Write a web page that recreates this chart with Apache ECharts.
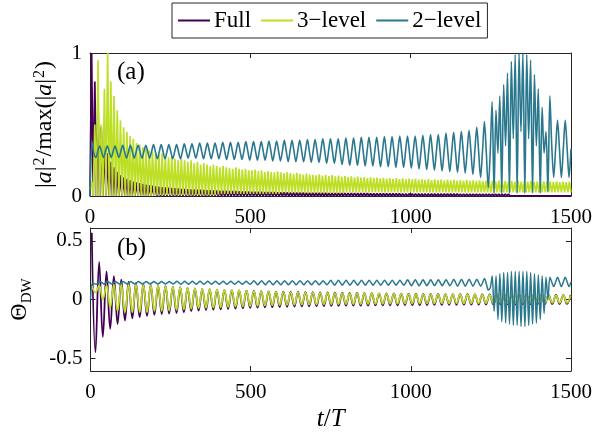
<!DOCTYPE html>
<html><head><meta charset="utf-8">
<script src="https://cdn.jsdelivr.net/npm/echarts@6/dist/echarts.min.js"></script>
<style>html,body{margin:0;padding:0;background:#fff}#c{width:612px;height:438px}</style>
</head><body><div id="c"></div>
<script>
// ---------------- DATA ----------------
const seriesNames = ['Full', '3\u2212level', '2\u2212level'];
const xTicks = [0, 500, 1000, 1500];
const ampTicks = [0, 1];
const thetaTicks = [-0.5, 0, 0.5];

// panel (a): dense curves, lows at t = 0,10,20..., highs at t = 5,15,25...
const fullAmpHi = [1.0,0.8,0.62,0.48,0.38,0.3,0.24,0.2,0.17,0.145,
0.13,0.12,0.11,0.1,0.095,0.09,0.085,0.08,0.076,0.072,
0.068,0.065,0.062,0.06,0.058,0.056,0.054,0.052,0.05,0.049,
0.048,0.046,0.045,0.044,0.043,0.042,0.041,0.04,0.039,0.038,
0.037,0.036,0.036,0.035,0.034,0.034,0.033,0.032,0.032,0.031,
0.03,0.03,0.029,0.029,0.028,0.028,0.027,0.027,0.026,0.026,
0.025,0.025,0.024,0.024,0.023,0.023,0.023,0.022,0.022,0.021,
0.021,0.021,0.021,0.021,0.02,0.02,0.02,0.02,0.02,0.02,
0.02,0.02,0.02,0.019,0.019,0.019,0.019,0.018,0.018,0.018,
0.018,0.018,0.017,0.017,0.017,0.017,0.017,0.016,0.016,0.016,
0.016,0.016,0.016,0.015,0.015,0.015,0.015,0.015,0.015,0.015,
0.015,0.015,0.015,0.015,0.015,0.014,0.014,0.014,0.014,0.014,
0.014,0.014,0.014,0.014,0.014,0.014,0.014,0.014,0.014,0.014,
0.014,0.013,0.013,0.013,0.013,0.013,0.013,0.013,0.013,0.013,
0.013,0.013,0.013,0.013,0.013,0.013,0.013,0.013,0.013,0.013];
const fullAmpLo = [0,0,0,0,0,0,0,0,0,0,0,0,0,0,0,0,0,0,0,0,
0,0,0,0,0,0,0,0,0,0,0,0,0,0,0,0,0,0,0,0,
0,0,0,0,0,0,0,0,0,0,0,0,0,0,0,0,0,0,0,0,
0,0,0,0,0,0,0,0,0,0,0,0,0,0,0,0,0,0,0,0,
0,0,0,0,0,0,0,0,0,0,0,0,0,0,0,0,0,0,0,0,
0,0,0,0,0,0,0,0,0,0,0,0,0,0,0,0,0,0,0,0,
0,0,0,0,0,0,0,0,0,0,0,0,0,0,0,0,0,0,0,0,
0,0,0,0,0,0,0,0,0,0,0];
const threeAmpHi = [0.1,0.5,0.95,0.5,0.75,1.0,0.8,0.7,0.6,0.53,
0.48,0.45,0.42,0.4,0.37,0.36,0.34,0.33,0.32,0.31,
0.3,0.29,0.3,0.28,0.27,0.28,0.26,0.25,0.26,0.25,
0.24,0.25,0.23,0.24,0.22,0.23,0.22,0.21,0.22,0.21,
0.2,0.21,0.2,0.195,0.19,0.2,0.19,0.185,0.19,0.18,
0.18,0.185,0.175,0.18,0.17,0.175,0.17,0.165,0.172,0.165,
0.16,0.168,0.16,0.155,0.162,0.155,0.15,0.157,0.15,0.148,
0.145,0.152,0.142,0.148,0.14,0.146,0.138,0.143,0.135,0.14,
0.133,0.138,0.13,0.136,0.128,0.133,0.126,0.131,0.125,0.129,
0.123,0.127,0.122,0.126,0.12,0.125,0.118,0.123,0.117,0.121,
0.116,0.12,0.115,0.119,0.113,0.118,0.112,0.116,0.111,0.115,
0.11,0.114,0.109,0.113,0.108,0.112,0.107,0.111,0.106,0.11,
0.105,0.109,0.104,0.108,0.103,0.107,0.103,0.107,0.102,0.106,
0.101,0.105,0.101,0.105,0.1,0.104,0.1,0.104,0.099,0.103,
0.099,0.103,0.098,0.102,0.098,0.102,0.097,0.101,0.097,0.101];
const threeAmpLo = [0.05,0,0,0,0,0,0,0,0,0,0,0,0,0,0,0,0,0,0,0,
0,0.005,0.005,0.005,0.005,0.005,0.005,0.005,0.005,0.005,0.005,0.005,0.005,0.005,0.005,0.005,0.005,0.005,0.005,0.005,
0.01,0.015,0.015,0.015,0.015,0.015,0.015,0.015,0.015,0.015,0.015,0.015,0.015,0.015,0.015,0.015,0.015,0.015,0.015,0.015,
0.02,0.02,0.02,0.02,0.02,0.02,0.02,0.02,0.02,0.02,0.02,0.02,0.02,0.02,0.02,0.02,0.02,0.02,0.02,0.02,
0.025,0.025,0.025,0.025,0.025,0.025,0.025,0.025,0.025,0.025,0.025,0.025,0.025,0.025,0.025,0.025,0.025,0.025,0.025,0.025,
0.025,0.025,0.025,0.025,0.025,0.025,0.025,0.025,0.025,0.025,0.025,0.025,0.025,0.025,0.025,0.025,0.025,0.025,0.025,0.025,
0.025,0.025,0.025,0.025,0.025,0.025,0.025,0.025,0.025,0.025,0.025,0.025,0.025,0.025,0.025,0.025,0.025,0.025,0.025,0.025,
0.025,0.025,0.025,0.025,0.025,0.025,0.025,0.025,0.025,0.025,0.025];
// panel (a): 2-level, one value every 6 T from t = 0
const twoAmp = [0,0.38,0.3,0.27,0.31,
.35,.31,.27,.31, .35,.31,.27,.31, .35,.31,.27,.31, .355,.31,.265,.31, .355,.31,.265,.31,
.355,.31,.265,.31, .355,.31,.265,.31, .36,.31,.26,.31, .36,.31,.26,.31, .36,.31,.26,.31,
.36,.31,.26,.31, .365,.315,.265,.315, .365,.315,.265,.315, .37,.315,.26,.315, .37,.315,.26,.315,
.37,.315,.26,.315, .375,.315,.255,.315, .375,.315,.255,.315, .375,.315,.255,.315, .38,.315,.25,.315,
.38,.315,.25,.315, .38,.315,.25,.315, .385,.315,.245,.315, .385,.315,.245,.315, .39,.315,.24,.315,
.39,.315,.24,.315, .39,.315,.24,.315, .395,.315,.235,.315, .395,.315,.235,.315, .4,.315,.23,.315,
.4,.315,.23,.315, .4,.31,.22,.31, .405,.31,.215,.31, .405,.31,.215,.31, .41,.31,.21,.31,
.41,.31,.21,.31, .41,.31,.205,.31, .415,.31,.205,.31, .415,.31,.2,.31, .42,.31,.2,.31,
.42,.31,.195,.31, .42,.305,.19,.305, .425,.305,.185,.305, .43,.305,.18,.305, .43,.305,.175,.305,
.44,.305,.17,.305, .445,.305,.165,.305, .45,.31,.16,.31, .46,.31,.15,.31, .48,.31,.13,.31,
.52,.3,.06,.3,
.66,.02,.6,.3,.7,.02,.78,.35,.86,.02,.94,.4,.99,.02,1.0,.45,1.0,.02,.99,.4,.95,.02,.85,.35,.75,.02,.62,.3,.45,.03,
.7,.35,.13,.33,.53,.33,.13,.33,.53,.33,.13,.33];

// panel (b): Full and 3-level, one extremum every 11.5 T from t = 4
const fullTheta = [.57,-.45,.32,-.32,.24,-.25,.2,-.21,.17,-.18,
.15,-.16,.14,-.15,.13,-.14,.125,-.13,.12,-.125,
.115,-.12,.11,-.115,.105,-.11,.1,-.1,.095,-.095,
.09,-.09,.088,-.088,.085,-.085,.082,-.08,.08,-.078,
.078,-.075,.075,-.072,.073,-.07,.072,-.068,.07,-.066,
.068,-.064,.066,-.062,.065,-.06,.064,-.059,.063,-.058,
.062,-.057,.061,-.056,.06,-.055,.059,-.054,.058,-.053,
.057,-.052,.056,-.052,.055,-.051,.054,-.05,.053,-.05,
.052,-.049,.051,-.049,.05,-.048,.05,-.048,.049,-.047,
.048,-.047,.047,-.046,.047,-.046,.046,-.045,.046,-.045,
.045,-.044,.045,-.044,.044,-.043,.044,-.043,.043,-.042,
.043,-.042,.042,-.041,.042,-.041,.041,-.04,.041,-.04,
.04,-.039,.04,-.039,.039,-.038,.039,-.038,.038,-.037,
.038];
const threeTheta = [.12,.06,.12,0,.12,-.07,.13,-.1,.13,-.11,
.13,-.11,.13,-.11,.125,-.11,.12,-.1,.12,-.1,
.115,-.095,.11,-.09,.105,-.085,.1,-.08,.095,-.075,
.09,-.072,.088,-.07,.085,-.068,.082,-.065,.08,-.062,
.077,-.06,.074,-.057,.072,-.055,.07,-.052,.067,-.05,
.065,-.048,.063,-.047,.062,-.046,.06,-.045,.059,-.044,
.058,-.043,.057,-.042,.056,-.041,.055,-.04,.054,-.04,
.053,-.039,.052,-.039,.051,-.038,.05,-.038,.05,-.037,
.049,-.037,.048,-.036,.048,-.036,.047,-.035,.046,-.035,
.045,-.035,.045,-.034,.044,-.034,.043,-.034,.043,-.033,
.042,-.033,.041,-.033,.041,-.032,.04,-.032,.04,-.032,
.039,-.031,.039,-.031,.038,-.031,.038,-.03,.037,-.03,
.037,-.03,.036,-.03,.036,-.029,.035,-.029,.035,-.029,
.035];
// panel (b): 2-level, one value every 6 T from t = 0
const twoTheta = [0,.14,.135,.13,.14,
.153,.143,.133,.143, .153,.143,.133,.143, .153,.143,.133,.143, .153,.143,.133,.143, .153,.143,.133,.143,
.153,.143,.133,.143, .153,.143,.133,.143, .153,.143,.133,.143, .153,.143,.133,.143, .153,.143,.133,.143,
.156,.143,.13,.143, .156,.143,.13,.143, .156,.143,.13,.143, .156,.143,.13,.143, .156,.143,.13,.143,
.156,.143,.13,.143, .156,.143,.13,.143, .156,.143,.13,.143, .156,.143,.13,.143, .156,.143,.13,.143,
.16,.143,.126,.143, .16,.143,.126,.143, .16,.143,.126,.143, .16,.143,.126,.143, .16,.143,.126,.143,
.16,.143,.126,.143, .16,.143,.126,.143, .16,.143,.126,.143, .16,.143,.126,.143, .16,.143,.126,.143,
.164,.143,.122,.143, .164,.143,.122,.143, .164,.143,.122,.143, .164,.143,.122,.143, .164,.143,.122,.143,
.164,.143,.122,.143, .164,.143,.122,.143, .164,.143,.122,.143, .164,.143,.122,.143, .164,.143,.122,.143,
.169,.143,.117,.143, .169,.143,.117,.143, .169,.143,.117,.143, .169,.143,.117,.143, .169,.143,.117,.143,
.169,.143,.117,.143, .173,.143,.113,.143, .173,.143,.113,.143, .173,.143,.113,.143, .173,.143,.113,.143,
.18,.13,.08,.1,
.2,-.1,.2,-.17,.22,-.19,.23,-.2,.23,-.21,.24,-.22,.24,-.22,.24,-.23,.24,-.23,.24,-.22,.23,-.21,.22,-.2,.21,-.17,.2,-.12,.19,0,
.19,.15,.11,.15,.19,.15,.11,.15,.19,.15,.11,.15];

// sampling of the arrays above (time axis, in units of T)
const denseStep = 5, twoStep = 6, thetaT0 = 4, thetaStep = 11.5;

// ---------------- helpers ----------------
function interleave(lo, hi, step) {
  const out = [];
  for (let k = 0; k < lo.length; k++) {
    out.push([2 * k * step, lo[k]]);
    if (k < hi.length) out.push([(2 * k + 1) * step, hi[k]]);
  }
  return out;
}
function uniform(vals, t0, step) { return vals.map((v, i) => [t0 + i * step, v]); }

const F = 'Liberation Serif';
const C = ['#440154', '#bddf26', '#2a788e'];
const ink = '#262626';
const TICK_FS = 21;

function xAx(grid, pos, labels, name) {
  return {
    type: 'value', gridIndex: grid, position: pos, min: 0, max: 1500, interval: 500,
    axisLine: { show: true, onZero: false, lineStyle: { color: ink, width: 1 } },
    axisTick: { show: true, inside: true, length: 5, lineStyle: { color: ink } },
    axisLabel: { show: labels, color: '#000', fontFamily: F, fontSize: TICK_FS, margin: 11, formatter: v => String(v) },
    splitLine: { show: false },
    name: name || '', nameLocation: 'middle', nameGap: 36,
    nameTextStyle: { color: '#000', fontFamily: F, fontSize: 25, rich: { i: { fontStyle: 'italic', fontFamily: F, fontSize: 25, color: '#000' } } }
  };
}
function yAx(grid, pos, labels, min, max, ticks, name, gap, fs, rich) {
  return {
    type: 'value', gridIndex: grid, position: pos, min: min, max: max,
    axisLine: { show: true, onZero: false, lineStyle: { color: ink, width: 1 } },
    axisTick: { show: true, inside: true, length: 5, lineStyle: { color: ink }, customValues: ticks },
    axisLabel: { show: labels, color: '#000', fontFamily: F, fontSize: TICK_FS, margin: 8, customValues: ticks, formatter: v => String(v) },
    splitLine: { show: false },
    name: name || '', nameLocation: 'middle', nameRotate: 90, nameGap: gap || 0,
    nameTextStyle: { color: '#000', fontFamily: F, fontSize: fs || 20, rich: rich || {} }
  };
}

const chart = echarts.init(document.getElementById('c'), null, { renderer: 'canvas' });
chart.setOption({
  animation: false,
  backgroundColor: '#fff',
  textStyle: { fontFamily: F },
  legend: {
    data: seriesNames, left: 172, top: 3, orient: 'horizontal',
    icon: 'rect', itemWidth: 32, itemHeight: 2, itemGap: 10,
    padding: [6, 6, 6, 6], borderColor: ink, borderWidth: 1, backgroundColor: '#fff',
    textStyle: { fontFamily: F, fontSize: 23, color: '#000', padding: [0, 0, 0, -1] }
  },
  grid: [
    { left: 90, top: 53, width: 481, height: 143 },
    { left: 90, top: 228, width: 481, height: 143 }
  ],
  xAxis: [
    xAx(0, 'bottom', true), xAx(0, 'top', false),
    xAx(1, 'bottom', true, '{i|t}/{i|T}'), xAx(1, 'top', false)
  ],
  yAxis: [
    yAx(0, 'left', true, 0, 1, ampTicks, '|{i|a}|{s|2}/max(|{i|a}|{s|2})', 32, 24,
        { i: { fontStyle: 'italic', fontFamily: F, fontSize: 24, color: '#000' },
          s: { fontFamily: F, fontSize: 16, color: '#000', padding: [0, 1, 10, 1] } }),
    yAx(0, 'right', false, 0, 1, ampTicks),
    yAx(1, 'left', true, -0.61, 0.61, thetaTicks, '\u0398{s|DW}', 56, 24,
        { s: { fontFamily: F, fontSize: 15, color: '#000', padding: [14, 0, 0, 0] } }),
    yAx(1, 'right', false, -0.61, 0.61, thetaTicks)
  ],
  graphic: [
    { type: 'text', left: 117, top: 60, style: { text: '(a)', font: '25px "Liberation Serif"', fill: '#000' } },
    { type: 'text', left: 117, top: 236, style: { text: '(b)', font: '25px "Liberation Serif"', fill: '#000' } }
  ],
  series: [
    { name: seriesNames[0], type: 'line', xAxisIndex: 0, yAxisIndex: 0, symbol: 'none', z: 2,
      lineStyle: { color: C[0], width: 1.8 }, itemStyle: { color: C[0] },
      data: interleave(fullAmpLo, fullAmpHi, denseStep) },
    { name: seriesNames[1], type: 'line', xAxisIndex: 0, yAxisIndex: 0, symbol: 'none', z: 3,
      lineStyle: { color: C[1], width: 1.7 }, itemStyle: { color: C[1] },
      data: interleave(threeAmpLo, threeAmpHi, denseStep) },
    { name: seriesNames[2], type: 'line', xAxisIndex: 0, yAxisIndex: 0, symbol: 'none', smooth: 0.3, z: 4,
      lineStyle: { color: C[2], width: 1.6 }, itemStyle: { color: C[2] },
      data: uniform(twoAmp, 0, twoStep) },
    { name: seriesNames[0], type: 'line', xAxisIndex: 2, yAxisIndex: 2, symbol: 'none', smooth: 0.4, z: 2,
      lineStyle: { color: C[0], width: 1.8 }, itemStyle: { color: C[0] },
      data: uniform(fullTheta, thetaT0, thetaStep) },
    { name: seriesNames[1], type: 'line', xAxisIndex: 2, yAxisIndex: 2, symbol: 'none', smooth: 0.4, z: 3,
      lineStyle: { color: C[1], width: 1.7 }, itemStyle: { color: C[1] },
      data: uniform(threeTheta, thetaT0, thetaStep) },
    { name: seriesNames[2], type: 'line', xAxisIndex: 2, yAxisIndex: 2, symbol: 'none', smooth: 0.3, z: 4,
      lineStyle: { color: C[2], width: 1.5 }, itemStyle: { color: C[2] },
      data: uniform(twoTheta, 0, twoStep) }
  ]
});
</script></body></html>
